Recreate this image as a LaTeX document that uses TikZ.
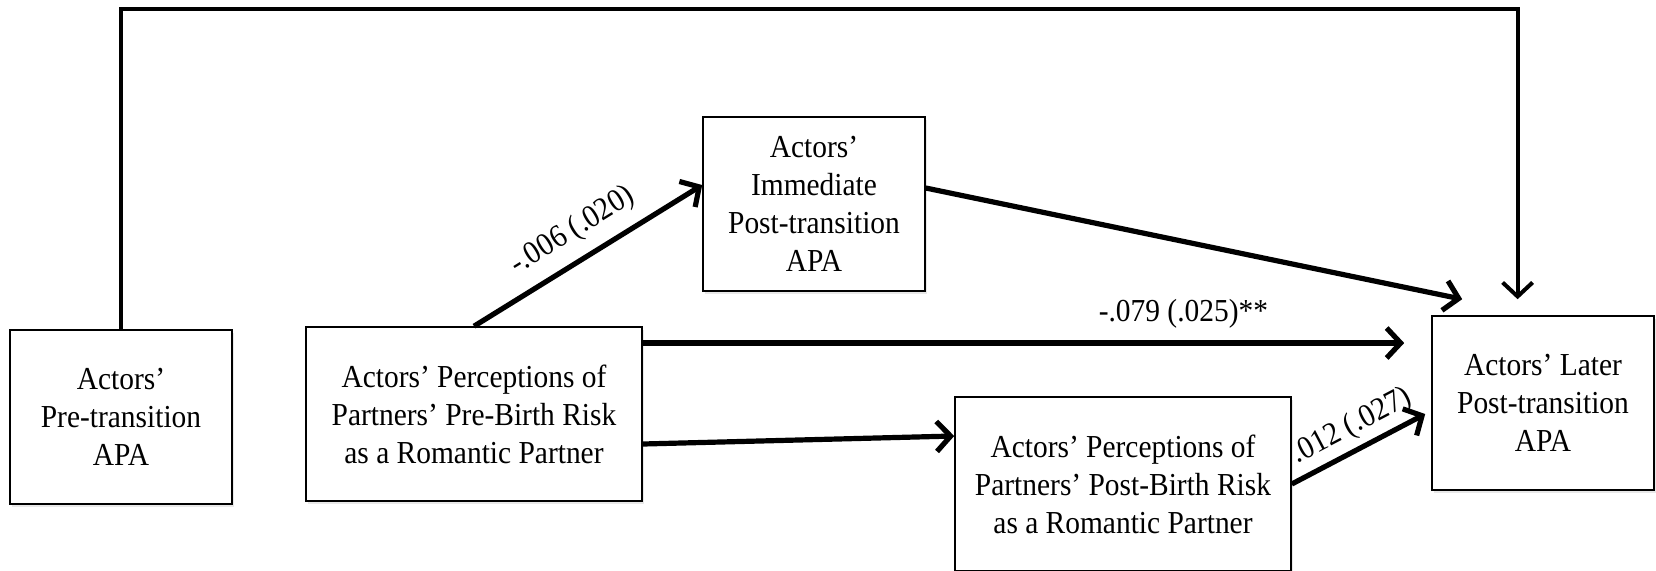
\documentclass[tikz,border=0pt]{standalone}
\usepackage{fontspec}
\setmainfont[FakeStretch=0.92]{Liberation Serif}
\usetikzlibrary{arrows.meta,shadows}
\tikzset{
  var/.style={draw,line width=.8pt,fill=white,align=center,
    minimum width=111pt,minimum height=87pt,
    font=\fontsize{16}{19}\selectfont,
    drop shadow={shadow xshift=1pt,shadow yshift=-1.5pt,opacity=.18}},
  widevar/.style={var,minimum width=168pt},
  effect/.style={line width=2.6pt,-{Straight Barb[length=7pt,width=15pt]}},
  coef/.style={font=\fontsize{16}{19}\selectfont,inner sep=2pt}
}
\begin{document}
\begin{tikzpicture}[x=.5pt,y=-.5pt]
  \useasboundingbox (0,0) rectangle (1656,570);
  % variables
  \node[var] (pre) at (121,417) {Actors’\\Pre-transition\\APA};
  \node[widevar] (prebirth) at (474,414) {Actors’ Perceptions of\\Partners’ Pre-Birth Risk\\as a Romantic Partner};
  \node[var] (imm) at (814,204) {Actors’\\Immediate\\Post-transition\\APA};
  \node[widevar] (postbirth) at (1123,484) {Actors’ Perceptions of\\Partners’ Post-Birth Risk\\as a Romantic Partner};
  \node[var] (later) at (1543,403) {Actors’ Later\\Post-transition\\APA};
  % free ends near the outcome
  \coordinate (in1) at ([xshift=15.5pt,yshift=8pt]later.north west);
  \coordinate (in2) at ([xshift=-13.5pt]later.west);
  \coordinate (in3) at ([xshift=-12.7pt,yshift=8pt]later.north);
  \coordinate (in4) at ([xshift=-3pt,yshift=-5.5pt]later.west);
  % paths
  \draw[effect] (prebirth.north) -- node[coef,midway,above=4pt,sloped] {-.006 (.020)} ([yshift=9.5pt]imm.west);
  \draw[effect] ([yshift=8pt]imm.east) -- (in1);
  \draw[effect] ([yshift=35.5pt]prebirth.east) coordinate (p3) -- node[coef,pos=.71,above=4pt] {-.079 (.025)**} (p3 -| in2);
  \draw[effect] ([yshift=-15pt]prebirth.east) -- ([yshift=24pt]postbirth.west);
  \draw[effect] (postbirth.east) -- node[coef,pos=.53,above=1pt,sloped] {.012 (.027)} (in4);
  \draw[effect,line width=2pt] (pre.north) -- (pre.north |- 0,8.5) -| (in3);
\end{tikzpicture}
\end{document}
